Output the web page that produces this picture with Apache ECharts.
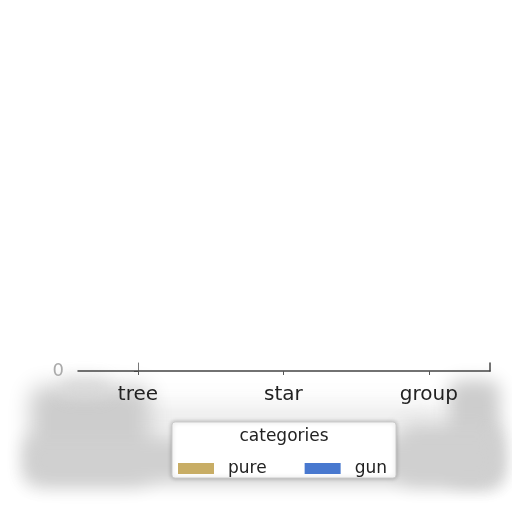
<!DOCTYPE html>
<html>
<head>
<meta charset="utf-8">
<script src="https://cdn.jsdelivr.net/npm/echarts@6/dist/echarts.min.js"></script>
<style>
  html, body { margin: 0; padding: 0; background: #fff; }
  #main { width: 512px; height: 512px; }
</style>
</head>
<body>
<div id="main"></div>
<script>
// categories along the x axis
var categories = ['tree', 'star', 'group'];
// series values (all bars sit at zero)
var pureValues = [0, 0, 0];
var gunValues = [0, 0, 0];
var seriesNames = ['pure', 'gun'];
var legendTitle = 'categories';
var yTicks = [0];

var myChart = echarts.init(document.getElementById('main'));

function toPoints(vals) {
    return vals.map(function(v, i) { return [i, v]; });
}

// soft grey blob: the shape sits off screen, only its blurred shadow shows
var OFF = 2000;
function blob(x, y, w, h, col, blur) {
    return {
        type: 'rect',
        z: -10,
        shape: { x: x - OFF, y: y, width: w, height: h, r: 12 },
        style: { fill: '#000', shadowBlur: blur, shadowColor: col, shadowOffsetX: OFF }
    };
}

var option = {
    animation: false,
    backgroundColor: '#fff',
    color: ['#c8ad65', '#4878cf'],
    grid: { left: 78, right: 22, top: 363, bottom: 141 },
    xAxis: {
        type: 'value',
        min: -0.412,
        max: 2.42,
        splitLine: { show: false },
        axisLine: { show: true, onZero: false, lineStyle: { color: '#444', width: 1.5 } },
        axisTick: { show: true, customValues: [0, 1, 2], length: 4, lineStyle: { color: '#555' } },
        axisLabel: {
            customValues: [0, 1, 2],
            margin: 14,
            color: '#222',
            fontSize: 20,
            fontFamily: 'DejaVu Sans',
            formatter: function(v) { return categories[Math.round(v)]; }
        }
    },
    yAxis: [{
        type: 'value',
        min: 0,
        max: 1,
        splitLine: { show: false },
        axisLine: { show: true, lineStyle: { color: '#777', width: 1 } },
        axisTick: { show: true, customValues: yTicks, length: 4, lineStyle: { color: '#444' } },
        axisLabel: { customValues: yTicks, color: '#aaa', fontSize: 18, fontFamily: 'DejaVu Sans', margin: 14, padding: [4, 0, 0, 0] }
    }, {
        type: 'value',
        position: 'right',
        min: 0,
        max: 1,
        splitLine: { show: false },
        axisLine: { show: true, lineStyle: { color: '#444', width: 1.5 } },
        axisTick: { show: false },
        axisLabel: { show: false }
    }],
    legend: {
        data: seriesNames,
        left: 173,
        top: 455,
        itemWidth: 36,
        itemHeight: 11,
        itemGap: 38,
        icon: 'rect',
        textStyle: { fontSize: 17, fontFamily: 'DejaVu Sans', color: '#222', padding: [0, 0, 0, 9] }
    },
    graphic: [
        blob(120, 406, 330, 26, 'rgba(220,220,220,0.6)', 24),
        blob(30, 386, 120, 96, 'rgba(205,205,205,1)', 22),
        blob(60, 378, 50, 20, 'rgba(215,215,215,0.8)', 16),
        blob(448, 380, 52, 104, 'rgba(205,205,205,1)', 18),
        blob(400, 424, 100, 60, 'rgba(208,208,208,1)', 20),
        blob(24, 436, 476, 48, 'rgba(208,208,208,1)', 18),
        {
            type: 'rect',
            z: -5,
            shape: { x: 172, y: 422, width: 224, height: 56, r: 3 },
            style: { fill: '#fff', stroke: '#ccc', lineWidth: 1, shadowBlur: 4, shadowColor: 'rgba(0,0,0,0.25)' }
        }, {
            type: 'text',
            z: 10,
            x: 284,
            y: 437,
            style: {
                text: legendTitle,
                fontSize: 17,
                fontFamily: 'DejaVu Sans',
                fill: '#222',
                textAlign: 'center',
                textVerticalAlign: 'middle'
            }
        }
    ],
    series: [{
        name: seriesNames[0],
        type: 'bar',
        barWidth: 40,
        data: toPoints(pureValues)
    }, {
        name: seriesNames[1],
        type: 'bar',
        barWidth: 40,
        data: toPoints(gunValues)
    }]
};

myChart.setOption(option);
</script>
</body>
</html>
